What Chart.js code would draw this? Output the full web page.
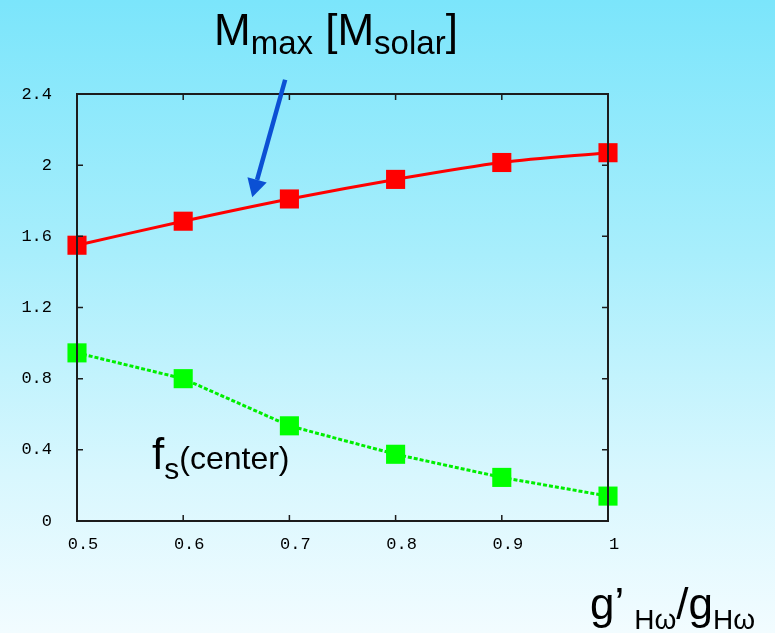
<!DOCTYPE html>
<html>
<head>
<meta charset="utf-8">
<script src="https://cdn.jsdelivr.net/npm/chart.js@4.4.1/dist/chart.umd.min.js"></script>
<style>
  html, body { margin: 0; padding: 0; }
  body {
    width: 775px; height: 633px; overflow: hidden; position: relative;
    background: linear-gradient(to bottom, #7be5fb 0%, #a8eefc 40%, #d8f7fe 75%, #f2fcff 100%);
    font-family: "Liberation Sans", Arial, sans-serif; color: #000;
  }
  canvas { position: absolute; left: 0; top: 0; }
  .lbl { position: absolute; white-space: nowrap; line-height: 1; }
  .sub { position: relative; }
</style>
</head>
<body>
<canvas id="chart" width="775" height="633"></canvas>
<div class="lbl" style="left:214px; top:8px; font-size:44px;">M<span class="sub" style="font-size:33px; top:9px;">max</span> [M<span class="sub" style="font-size:33px; top:9px;">solar</span>]</div>
<div class="lbl" style="left:152px; top:432px; font-size:44px;">f<span class="sub" style="font-size:30px; top:10px;">s</span><span style="font-size:32px;">(center)</span></div>
<div class="lbl" style="left:590px; top:582px; font-size:44px;">g’<span class="sub" style="font-size:28px; top:10px; margin-left:10px;">Hω</span>/g<span class="sub" style="font-size:28px; top:10px;">Hω</span></div>
<script>
// values
const xValues = [0.5, 0.6, 0.7, 0.8, 0.9, 1.0];
const mMax = [1.55, 1.685, 1.81, 1.92, 2.015, 2.07];      // red, solid
const fsCenter = [0.945, 0.80, 0.535, 0.375, 0.245, 0.14]; // green, dotted
const xTicks = [0.5, 0.6, 0.7, 0.8, 0.9, 1];
const yTicks = [0, 0.4, 0.8, 1.2, 1.6, 2, 2.4];

const toPoints = ys => xValues.map((x, i) => ({x: x, y: ys[i]}));

const tickFont = {family: '"Liberation Mono", "Courier New", monospace', size: 17};

// frame round the plot with short inward ticks on all four sides, plus the blue arrow
const framePlugin = {
    id: 'frame',
    afterDatasetsDraw(chart) {
        const ctx = chart.ctx;
        const a = chart.chartArea;
        const xs = chart.scales.x, ys = chart.scales.y;
        ctx.save();
        ctx.strokeStyle = '#1c1c1c';
        ctx.lineWidth = 2;
        ctx.strokeRect(a.left, a.top, a.right - a.left, a.bottom - a.top);
        ctx.lineWidth = 1.5;
        ctx.beginPath();
        yTicks.forEach(v => {
            const y = ys.getPixelForValue(v);
            ctx.moveTo(a.left, y); ctx.lineTo(a.left + 6, y);
            ctx.moveTo(a.right, y); ctx.lineTo(a.right - 6, y);
        });
        xTicks.forEach(v => {
            const x = xs.getPixelForValue(v);
            ctx.moveTo(x, a.top); ctx.lineTo(x, a.top + 6);
            ctx.moveTo(x, a.bottom); ctx.lineTo(x, a.bottom - 6);
        });
        ctx.stroke();

        // arrow pointing at the M_max curve
        const x0 = xs.getPixelForValue(0.696), y0 = ys.getPixelForValue(2.48);
        const x1 = xs.getPixelForValue(0.665), y1 = ys.getPixelForValue(1.82);
        const ang = Math.atan2(y1 - y0, x1 - x0);
        const headLen = 18, headW = 10;
        const bx = x1 - headLen * Math.cos(ang), by = y1 - headLen * Math.sin(ang);
        ctx.strokeStyle = '#0b50d4';
        ctx.fillStyle = '#0b50d4';
        ctx.lineWidth = 4.5;
        ctx.beginPath();
        ctx.moveTo(x0, y0); ctx.lineTo(bx, by);
        ctx.stroke();
        ctx.beginPath();
        ctx.moveTo(x1, y1);
        ctx.lineTo(bx + headW * Math.sin(ang), by - headW * Math.cos(ang));
        ctx.lineTo(bx - headW * Math.sin(ang), by + headW * Math.cos(ang));
        ctx.closePath();
        ctx.fill();
        ctx.restore();
    }
};

new Chart(document.getElementById('chart'), {
    type: 'line',
    data: {
        datasets: [{
            data: toPoints(mMax),
            borderColor: '#ff0000',
            backgroundColor: '#ff0000',
            borderWidth: 3,
            pointStyle: 'rect',
            pointRadius: 13.5,
            pointBorderWidth: 0,
            tension: 0.3,
            clip: false
        }, {
            data: toPoints(fsCenter),
            borderColor: '#00ee00',
            backgroundColor: '#00ff00',
            borderWidth: 3,
            borderDash: [4, 2],
            pointStyle: 'rect',
            pointRadius: 13.5,
            pointBorderWidth: 0,
            tension: 0,
            clip: false
        }]
    },
    options: {
        responsive: false,
        animation: false,
        events: [],
        layout: {padding: {left: 0, top: 94, right: 167, bottom: 0}},
        plugins: {legend: {display: false}, tooltip: {enabled: false}},
        scales: {
            x: {
                type: 'linear', min: 0.5, max: 1,
                afterBuildTicks: s => { s.ticks = xTicks.map(v => ({value: v})); },
                afterFit: s => { s.height = 112; },
                ticks: {font: tickFont, color: '#000', padding: 5, labelOffset: 6, maxRotation: 0,
                        callback: v => String(v)},
                grid: {display: false},
                border: {display: false}
            },
            y: {
                min: 0, max: 2.4,
                afterBuildTicks: s => { s.ticks = yTicks.map(v => ({value: v})); },
                afterFit: s => { s.width = 77; },
                ticks: {font: tickFont, color: '#000', padding: 17,
                        callback: v => String(v)},
                grid: {display: false},
                border: {display: false}
            }
        }
    },
    plugins: [framePlugin]
});
</script>
</body>
</html>
